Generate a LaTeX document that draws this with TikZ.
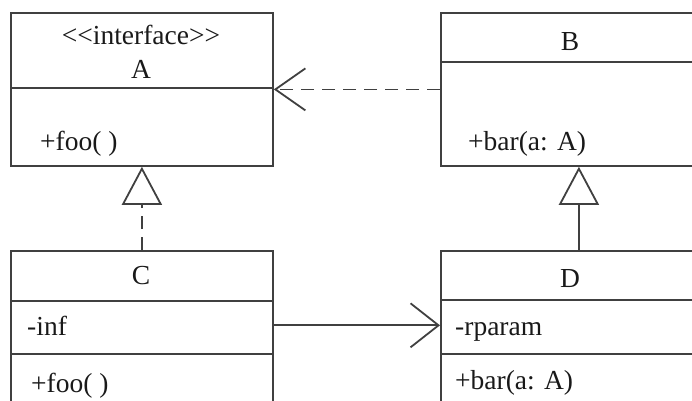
\documentclass[tikz,border=0pt]{standalone}
\usepackage{fontspec}
\setmainfont{Liberation Serif}
\usetikzlibrary{arrows.meta}
\begin{document}
\begin{tikzpicture}[x=1pt,y=-1pt,
  box/.style={draw=black!75, line width=1.8pt, inner sep=0pt, anchor=north west},
  sep/.style={draw=black!75, line width=1.8pt},
  txt/.style={font=\fontsize{27.5}{32}\selectfont, text=black!90, inner sep=0pt},
  conn/.style={draw=black!75, line width=1.8pt},
  dashlong/.style={dash pattern=on 13pt off 8pt},
  dep/.style={conn, dashlong, -{Straight Barb[length=30pt,width=42pt,line width=1.8pt]}},
  assoc/.style={conn, -{Straight Barb[length=28pt,width=44pt,line width=1.8pt]}},
  real/.style={conn, dashlong, -{Triangle[open,length=38pt,width=40pt,line width=1.8pt,fill=white]}},
  gen/.style={conn, -{Triangle[open,length=38pt,width=40pt,line width=1.8pt,fill=white]}}
]
\useasboundingbox (0,0) rectangle (692,400);
% class boxes
\node[box, minimum width=262pt, minimum height=153pt] (A) at (10,12) {};
\node[box, minimum width=276pt, minimum height=153pt] (B) at (440,12) {};
\node[box, minimum width=262pt, minimum height=175pt] (C) at (10,250) {};
\node[box, minimum width=276pt, minimum height=175pt] (D) at (440,250) {};
% dividers
\draw[sep] (A.west |- 0,88) -- (A.east |- 0,88);
\draw[sep] (B.west |- 0,62) -- (B.east |- 0,62);
\draw[sep] (C.west |- 0,301) -- (C.east |- 0,301);
\draw[sep] (C.west |- 0,354) -- (C.east |- 0,354);
\draw[sep] (D.west |- 0,300) -- (D.east |- 0,300);
\draw[sep] (D.west |- 0,354) -- (D.east |- 0,354);
% texts
\node[txt, anchor=base] (Aster) at (141,44) {<\kern0pt<interface>\kern0pt>};
\node[txt, anchor=base] (Aname) at (141,78) {A};
\node[txt, anchor=base west] (Afoo) at (40,150) {+foo( )};
\node[txt, anchor=base] (Bname) at (570,50) {B};
\node[txt, anchor=base west] (Bbar) at (468,150) {+bar(a: A)};
\node[txt, anchor=base] (Cname) at (141,284) {C};
\node[txt, anchor=base west] (Cinf) at (27,335) {-inf};
\node[txt, anchor=base west] (Cfoo) at (31,392) {+foo( )};
\node[txt, anchor=base] (Dname) at (570,287) {D};
\node[txt, anchor=base west] (Dparam) at (455,335) {-rparam};
\node[txt, anchor=base west] (Dbar) at (455,389) {+bar(a: A)};
% connectors
\draw[dep] (B.west) -- (A.east);
\draw[real] (C.north) -- (A.south);
\draw[gen] (D.north) -- (B.south);
\draw[assoc] (Cinf -| C.east) -- (Cinf -| D.west);
\end{tikzpicture}
\end{document}
